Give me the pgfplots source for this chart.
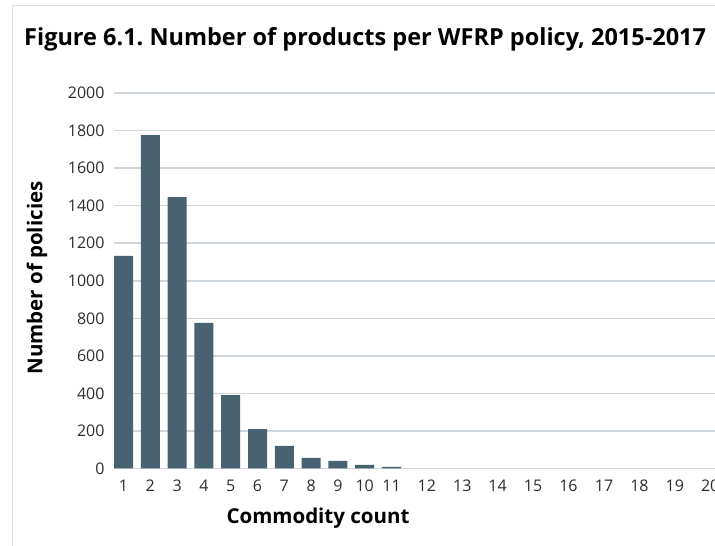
\documentclass[border=0pt]{standalone}
\usepackage{fontspec}
\setmainfont{Open Sans}
\usepackage{pgfplots}
\pgfplotsset{compat=1.18}
\frenchspacing
\definecolor{barc}{RGB}{72,98,114}
\definecolor{gridc}{RGB}{208,215,220}
\definecolor{framec}{RGB}{216,221,225}
\definecolor{tickc}{RGB}{45,45,45}
\begin{document}
\begin{tikzpicture}
\useasboundingbox (0pt,0pt) rectangle (715pt,546pt);
\draw[framec, line width=1.6pt] (12.5pt,-5pt) -- (12.5pt,540.5pt) -- (720pt,540.5pt);
\node[anchor=base west, inner sep=0pt, font=\fontsize{23.5}{28}\selectfont\bfseries] at (24pt,500pt) {Figure 6.1. Number of products per WFRP policy, 2015-2017};
\begin{axis}[
  at={(114pt,77.5pt)}, anchor=south west,
  x=26.8pt, y=0.18775pt,
  xmin=0.645, xmax=24, ymin=0, ymax=2000,
  axis line style={draw=none},
  major tick length=0pt,
  ytick={0,200,...,2000},
  xtick={1,2,3,4,5,6,7,8,9,10,11,12.32,13.64,14.96,16.28,17.6,18.93,20.25,21.57,22.89},
  xticklabels={1,2,3,4,5,6,7,8,9,10,11,12,13,14,15,16,17,18,19,20},
  ymajorgrids,
  major grid style={gridc, line width=1.6pt},
  tick label style={font=\fontsize{16}{19}\selectfont, text=tickc},
  /pgf/number format/assume math mode=true,
  /pgf/number format/1000 sep={},
  yticklabel style={anchor=east, xshift=-6pt},
  xticklabel style={anchor=north, yshift=-8pt},
  clip=false,
]
\addplot[ybar, bar width=19pt, fill=barc, draw=none] coordinates {
(1,1132) (2,1776) (3,1446) (4,775) (5,391) (6,210) (7,120) (8,56) (9,40) (10,19) (11,8)
};
\end{axis}
\node[rotate=90, font=\fontsize{20.5}{24}\selectfont\bfseries] at (37pt,268pt) {Number of policies};
\node[anchor=base, font=\fontsize{20.5}{24}\selectfont\bfseries] at (318pt,22pt) {Commodity count};
\end{tikzpicture}
\end{document}
